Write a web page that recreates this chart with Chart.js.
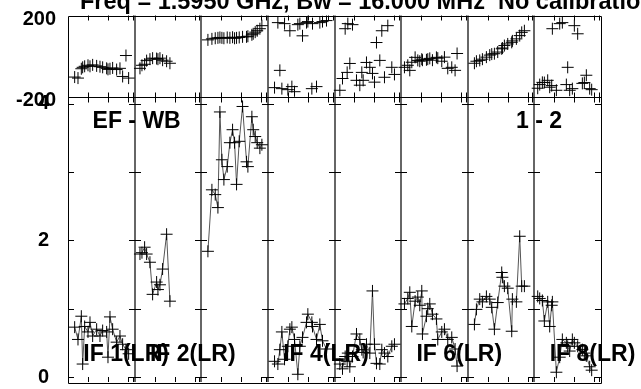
<!DOCTYPE html>
<html>
<head>
<meta charset="utf-8">
<script src="https://cdn.jsdelivr.net/npm/chart.js@4.4.1/dist/chart.umd.min.js"></script>
<style>
  body { margin: 0; background: #fff; }
</style>
</head>
<body>
<canvas id="grafico" width="641" height="389"></canvas>
<script>
var columnas = 8;
var titulo = 'Freq = 1.5950 GHz, Bw = 16.000 MHz  No calibration';
var etiquetasIF = ['IF 1(LR)', 'IF 2(LR)', 'IF 4(LR)', 'IF 6(LR)', 'IF 8(LR)'];
var columnasIF = [0, 1, 3, 5, 7];
var ticksFase = [-200, 0, 200];
var ticksAmp = [0, 1, 2, 3, 4];

// tiempo = fraccion del ancho de cada columna
var tiempo1 = [.10, .15, .20, .22, .25, .30, .33, .37, .43, .48, .52, .58, .60, .63, .67, .73, .78, .82, .87, .91];
var fase1 = [-103, -108, -62, -55, -50, -45, -50, -43, -48, -52, -55, -60, -65, -62, -58, -66, -60, -100, 3, -108];
var amp1 = [0.73, 0.55, 0.89, 0.19, 0.74, 0.66, 0.80, 0.60, 0.70, 0.60, 0.68, 0.66, 0.29, 0.88, 0.70, 0.51, 0.60, 0.48, 0.40, 0.34];

var tiempo2 = [.08, .11, .15, .18, .23, .27, .33, .35, .38, .42, .48, .53];
var fase2 = [-60, -45, -40, -22, -15, -10, -12, -15, -10, -20, -25, -35];
var amp2 = [1.80, 1.82, 1.90, 1.80, 1.68, 1.21, 1.39, 1.28, 1.35, 1.58, 2.09, 1.11];

var tiempo3 = [.10, .16, .21, .25, .28, .31, .34, .39, .43, .47, .50, .53, .57, .62, .68, .70, .76, .78, .81, .84, .88, .91];
var fase3 = [80, 85, 88, 90, 92, 90, 88, 92, 90, 93, 88, 90, 92, 95, 95, 98, 105, 110, 118, 125, 135, 150];
var amp3 = [1.84, 2.74, 2.67, 2.48, 3.88, 3.18, 2.89, 3.08, 3.43, 3.62, 3.43, 2.82, 3.45, 3.96, 3.15, 3.08, 3.81, 3.62, 3.52, 3.43, 3.35, 3.40];

var tiempo4 = [.10, .15, .18, .21, .25, .30, .33, .36, .40, .45, .48, .52, .58, .60, .66, .67, .73, .78, .82, .88];
var fase4 = [-155, 165, -70, -160, 160, -165, 125, -150, -175, 155, 160, 100, 165, 170, -160, 160, -150, 165, 170, 175];
var amp4 = [0.23, 0.19, 0.40, 0.66, 0.26, 0.45, 0.70, 0.73, 0.55, 0.04, 0.45, 0.58, 0.80, 0.92, 0.80, 0.74, 0.55, 0.77, 0.53, 0.41];

var tiempo5 = [.08, .12, .16, .19, .20, .23, .27, .33, .38, .41, .43, .48, .53, .57, .60, .63, .68, .71, .75, .80, .86, .90];
var fase5 = [-168, -110, 135, -80, 160, -36, 155, -119, -143, -80, -119, -31, -55, -85, -128, 67, -21, 125, -104, 150, -55, -90];
var amp5 = [0.19, 0.12, 0.30, 0.23, 0.35, 0.15, 0.30, 0.63, 0.55, 0.40, 0.36, 0.48, 0.35, 1.26, 0.48, 0.20, 0.19, 0.40, 0.35, 0.30, 0.45, 0.48];

var tiempo6 = [.05, .10, .13, .16, .21, .25, .28, .31, .32, .38, .40, .43, .47, .53, .55, .61, .65, .70, .76, .81, .84];
var fase6 = [-55, -45, -70, -30, -6, -21, -25, -15, -20, -18, -15, -11, -20, -6, -10, -25, -5, -60, -55, -70, 13];
var amp6 = [1.07, 1.15, 1.24, 0.74, 1.11, 1.17, 1.05, 1.26, 0.63, 0.89, 1.00, 1.07, 0.92, 0.85, 0.55, 0.66, 0.70, 0.55, 0.58, 0.41, 0.16];

var tiempo7 = [.10, .13, .18, .22, .28, .33, .36, .40, .45, .51, .52, .55, .60, .66, .67, .73, .78, .81, .85];
var fase7 = [-35, -25, -21, -15, -5, 5, 10, 12, 20, 36, 40, 52, 60, 68, 75, 85, 101, 117, 125];
var amp7 = [0.77, 0.99, 1.14, 1.10, 1.18, 1.14, 1.02, 0.70, 1.09, 1.53, 1.46, 1.33, 1.30, 0.67, 1.14, 1.10, 2.06, 1.33, 1.33];

var tiempo8 = [.05, .08, .12, .15, .20, .23, .26, .27, .33, .38, .42, .48, .50, .53, .57, .60, .65, .72, .75, .78, .83, .86];
var fase8 = [-158, -140, -129, -130, -119, -153, -145, 135, -168, 160, 165, -140, -55, -168, -160, 150, 110, -134, -130, -94, -160, -165];
var amp8 = [1.18, 1.15, 1.12, 0.82, 1.10, 0.74, 1.05, 1.10, 0.07, 0.29, 0.55, 0.50, 0.45, 0.38, 0.55, 0.50, 0.45, 0.40, 0.35, 0.31, 0.15, 0.10];

var tiempos = [tiempo1, tiempo2, tiempo3, tiempo4, tiempo5, tiempo6, tiempo7, tiempo8];
var fases = [fase1, fase2, fase3, fase4, fase5, fase6, fase7, fase8];
var amps = [amp1, amp2, amp3, amp4, amp5, amp6, amp7, amp8];

var fuente = '"Liberation Sans", Arial, sans-serif';

function puntos(col, valores) {
    return tiempos[col].map(function (t, j) {
        return { x: col + t, y: valores[j] };
    });
}

// sin padding extra de las etiquetas
function ajustar(ancho) {
    return function (s) {
        if (ancho === 0) { s.height = 0; } else { s.width = ancho; }
        s.paddingTop = 0;
        s.paddingBottom = 0;
        s.paddingLeft = 0;
        s.paddingRight = 0;
    };
}

var datasets = [];
for (var i = 0; i < columnas; i++) {
    datasets.push({
        yAxisID: 'yFase',
        data: puntos(i, fases[i]),
        showLine: false,
        pointStyle: 'cross',
        pointRadius: 6,
        pointBorderColor: '#000',
        pointBorderWidth: 1
    });
    datasets.push({
        yAxisID: 'yAmp',
        data: puntos(i, amps[i]),
        showLine: true,
        borderColor: '#555',
        borderWidth: 1,
        pointStyle: 'cross',
        pointRadius: 6,
        pointBorderColor: '#000',
        pointBorderWidth: 1
    });
}

// marco, ticks y textos
var marco = {
    id: 'marco',
    afterDatasetsDraw: function (chart) {
        var ctx = chart.ctx;
        var a = chart.chartArea;
        var x = chart.scales.x, yf = chart.scales.yFase, ya = chart.scales.yAmp;
        ctx.save();
        ctx.strokeStyle = '#000';
        ctx.lineWidth = 1;
        var sep = Math.round(yf.bottom) + 0.5;
        ctx.beginPath();
        ctx.rect(Math.round(a.left) + 0.5, Math.round(a.top) + 0.5, Math.round(a.width), Math.round(a.height));
        ctx.moveTo(a.left, sep);
        ctx.lineTo(a.right, sep);
        for (var k = 0; k <= columnas; k++) {
            var xp = Math.round(x.getPixelForValue(k));
            ticksAmp.forEach(function (v) {
                var yp = Math.round(ya.getPixelForValue(v)) + 0.5;
                ctx.moveTo(k === 0 ? xp : xp - 6, yp);
                ctx.lineTo(k === columnas ? xp : xp + 6, yp);
            });
            if (k < columnas) {
                [0.3, 0.6, 0.9, 0.97].forEach(function (d) {
                    var tx = Math.round(x.getPixelForValue(k + d)) + 0.5;
                    ctx.moveTo(tx, yf.top);
                    ctx.lineTo(tx, yf.top + 5);
                    ctx.moveTo(tx, sep - 5);
                    ctx.lineTo(tx, sep + 5);
                    ctx.moveTo(tx, ya.bottom);
                    ctx.lineTo(tx, ya.bottom - 5);
                });
            }
        }
        ctx.stroke();

        ctx.fillStyle = '#000';
        ctx.font = 'bold 23px ' + fuente;
        ctx.textBaseline = 'middle';
        ctx.textAlign = 'center';
        ctx.fillText('EF - WB', x.getPixelForValue(1.03), ya.getPixelForValue(3.74));
        ctx.fillText('1 - 2', x.getPixelForValue(7.07), ya.getPixelForValue(3.74));
        ctx.textAlign = 'left';
        etiquetasIF.forEach(function (txt, n) {
            ctx.fillText(txt, x.getPixelForValue(columnasIF[n] + 0.23), ya.getPixelForValue(0.33));
        });
        ctx.font = 'bold 23.5px ' + fuente;
        ctx.textBaseline = 'alphabetic';
        ctx.fillText(titulo, 80, 9);
        ctx.restore();
    }
};

var grafico = new Chart(document.getElementById('grafico'), {
    type: 'scatter',
    data: { datasets: datasets },
    plugins: [marco],
    options: {
        responsive: false,
        animation: false,
        layout: { padding: { top: 15.5, right: 40, bottom: 6, left: 0 } },
        plugins: { legend: { display: false }, tooltip: { enabled: false } },
        scales: {
            x: {
                type: 'linear',
                min: 0,
                max: columnas,
                afterBuildTicks: function (s) {
                    s.ticks = [1, 2, 3, 4, 5, 6, 7].map(function (v) { return { value: v }; });
                },
                afterFit: ajustar(0),
                grid: { color: '#666', lineWidth: 2, drawTicks: false },
                border: { display: false },
                ticks: { display: false }
            },
            yAmp: {
                type: 'linear',
                position: 'left',
                stack: 'panel',
                stackWeight: 286,
                min: -0.073,
                max: 4.102,
                afterBuildTicks: function (s) {
                    s.ticks = ticksAmp.map(function (v) { return { value: v }; });
                },
                afterFit: ajustar(68),
                grid: { display: false },
                border: { display: false },
                ticks: {
                    color: '#000',
                    padding: 11,
                    font: { family: fuente, size: 20, weight: 'bold' },
                    callback: function (v) { return v % 2 === 0 ? String(v) : ''; }
                }
            },
            yFase: {
                type: 'linear',
                position: 'left',
                stack: 'panel',
                stackWeight: 81.5,
                min: -200,
                max: 200,
                afterBuildTicks: function (s) {
                    s.ticks = ticksFase.map(function (v) { return { value: v }; });
                },
                afterFit: ajustar(68),
                grid: {
                    drawTicks: false,
                    lineWidth: 1,
                    color: function (c) { return c.tick && c.tick.value === 0 ? '#000' : 'rgba(0,0,0,0)'; }
                },
                border: { display: false },
                ticks: {
                    color: '#000',
                    padding: 12,
                    labelOffset: 4,
                    font: { family: fuente, size: 20, weight: 'bold' },
                    callback: function (v) { return v === 0 ? '' : String(v); }
                }
            }
        }
    }
});
</script>
</body>
</html>
